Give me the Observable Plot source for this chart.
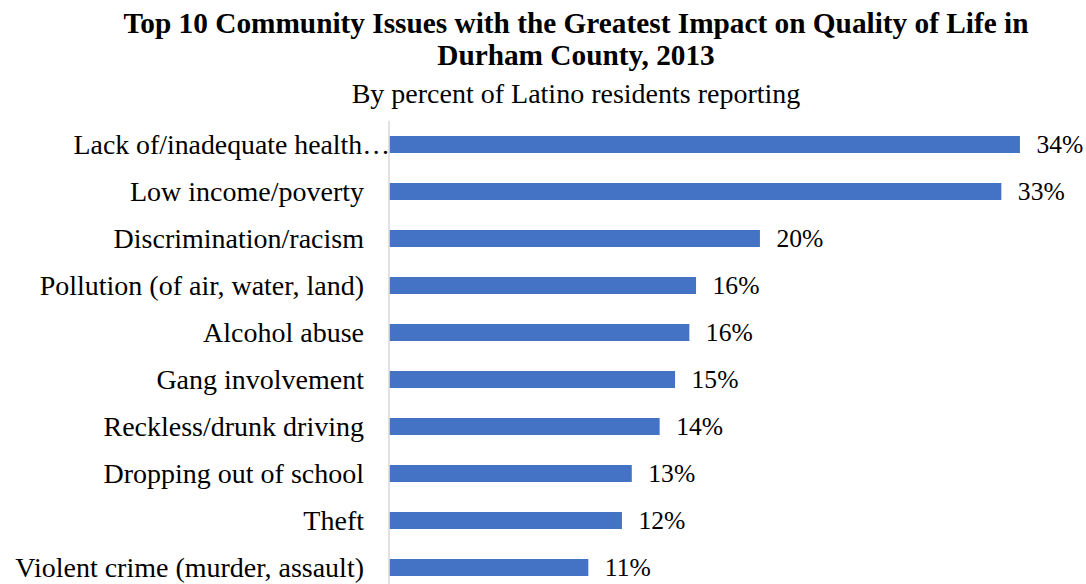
<!DOCTYPE html>
<html>
<head>
<meta charset="utf-8">
<script src="https://cdn.jsdelivr.net/npm/d3@7"></script>
<script src="https://cdn.jsdelivr.net/npm/@observablehq/plot@0.6"></script>
<style>
  html, body { margin: 0; padding: 0; background: #fff; }
  #header { width: 1086px; height: 112px; box-sizing: border-box; padding-left: 66px; text-align: center; font-family: 'Liberation Serif', 'Times New Roman', serif; color: #000; }
  #title { font-weight: bold; font-size: 29.3px; line-height: 32px; padding-top: 7px; }
  #subtitle { font-size: 28px; line-height: 32px; margin-top: 6.8px; }
  #chart svg { display: block; }
</style>
</head>
<body>
<div id="header">
  <div id="title">Top 10 Community Issues with the Greatest Impact on Quality of Life in<br>Durham County, 2013</div>
  <div id="subtitle">By percent of Latino residents reporting</div>
</div>
<div id="chart"></div>
<script>
const categories = [
  "Lack of/inadequate health…",
  "Low income/poverty",
  "Discrimination/racism",
  "Pollution (of air, water, land)",
  "Alcohol abuse",
  "Gang involvement",
  "Reckless/drunk driving",
  "Dropping out of school",
  "Theft",
  "Violent crime (murder, assault)"
];
const values = [34.0, 33.0, 20.0, 16.56, 16.2, 15.43, 14.6, 13.1, 12.57, 10.76];
const valueLabels = ["34%", "33%", "20%", "16%", "16%", "15%", "14%", "13%", "12%", "11%"];

const data = categories.map((c, i) => ({category: c, value: values[i], label: valueLabels[i]}));
const font = "'Liberation Serif', 'Times New Roman', serif";

const chart = Plot.plot({
  width: 1086,
  height: 472,
  marginLeft: 388.5,
  marginRight: 47.5,
  marginTop: 8.7,
  marginBottom: 0,
  style: {fontFamily: font, color: "#000", background: "#fff"},
  x: {domain: [0, 35], axis: null},
  y: {domain: categories, paddingInner: 0.64, paddingOuter: 0.235, align: 0.64, axis: null},
  marks: [
    Plot.barX(data, {x: "value", y: "category", fill: "#4472C4", insetLeft: 0.8}),
    Plot.ruleX([0], {stroke: "#D9D9D9", strokeWidth: 1.5}),
    Plot.text(data, {x: "value", y: "category", text: "label", textAnchor: "start", dx: 16, fontSize: 25.6, fill: "#000", fontFamily: font}),
    Plot.text(data.slice(1), {x: 0, y: "category", text: "category", textAnchor: "end", dx: -25, fontSize: 28, fill: "#000", fontFamily: font}),
    Plot.text(data.slice(0, 1), {x: 0, y: "category", text: "category", textAnchor: "end", dx: 1, fontSize: 27.8, fill: "#000", fontFamily: font})
  ]
});
document.getElementById("chart").appendChild(chart);
</script>
</body>
</html>
